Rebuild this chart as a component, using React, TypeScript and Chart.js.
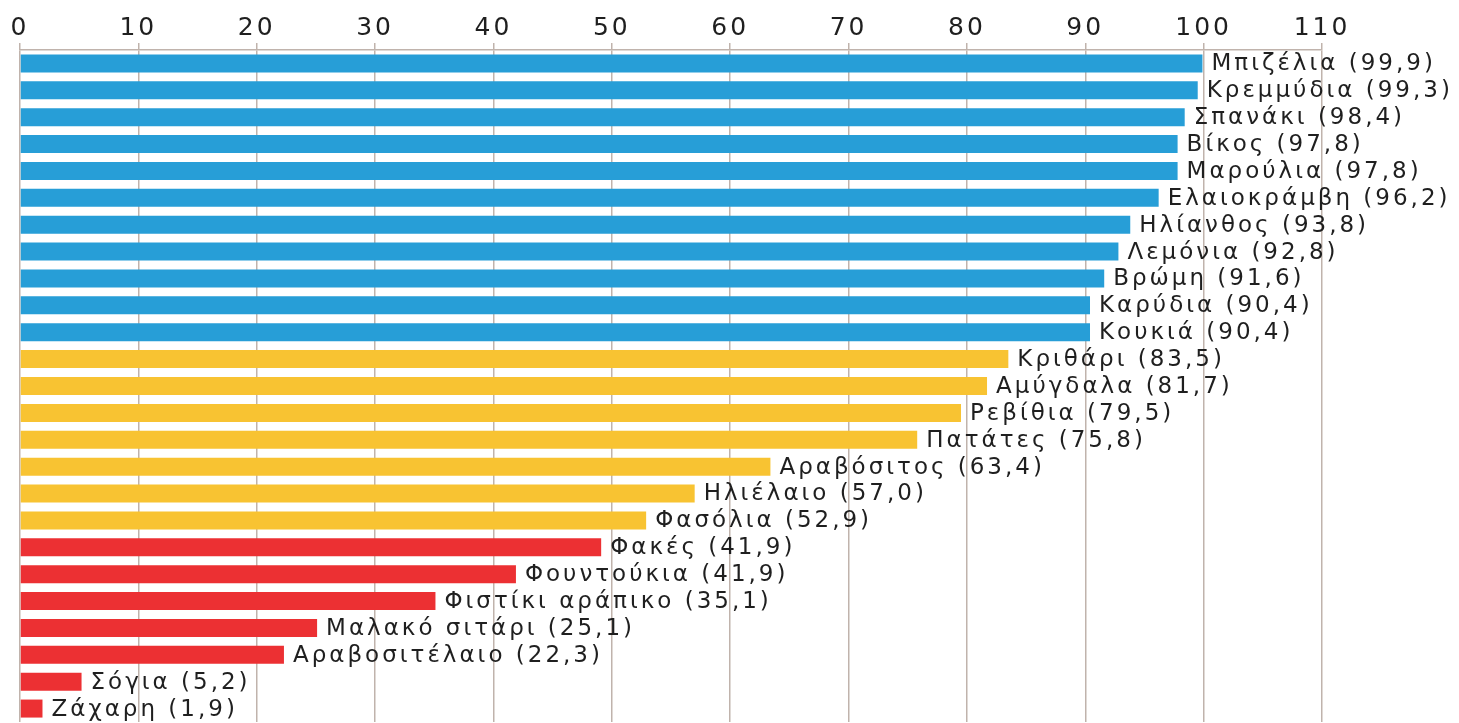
import React, { useEffect, useRef } from "react";
import { Chart, registerables } from "chart.js";

Chart.register(...registerables);

const categories = [
  "Μπιζέλια", "Κρεμμύδια", "Σπανάκι", "Βίκος", "Μαρούλια", "Ελαιοκράμβη",
  "Ηλίανθος", "Λεμόνια", "Βρώμη", "Καρύδια", "Κουκιά", "Κριθάρι",
  "Αμύγδαλα", "Ρεβίθια", "Πατάτες", "Αραβόσιτος", "Ηλιέλαιο", "Φασόλια",
  "Φακές", "Φουντούκια", "Φιστίκι αράπικο", "Μαλακό σιτάρι", "Αραβοσιτέλαιο",
  "Σόγια", "Ζάχαρη",
];

// bar lengths as drawn in the picture
const values = [
  99.9, 99.5, 98.4, 97.8, 97.8, 96.2, 93.8, 92.8, 91.6, 90.4, 90.4, 83.5,
  81.7, 79.5, 75.8, 63.4, 57.0, 52.9, 49.1, 41.9, 35.1, 25.1, 22.3, 5.2, 1.9,
];

// value text printed next to each bar
const valueLabels = [
  "99,9", "99,3", "98,4", "97,8", "97,8", "96,2", "93,8", "92,8", "91,6",
  "90,4", "90,4", "83,5", "81,7", "79,5", "75,8", "63,4", "57,0", "52,9",
  "41,9", "41,9", "35,1", "25,1", "22,3", "5,2", "1,9",
];

const tiers = [
  "high", "high", "high", "high", "high", "high", "high", "high", "high", "high", "high",
  "mid", "mid", "mid", "mid", "mid", "mid", "mid",
  "low", "low", "low", "low", "low", "low", "low",
];

const tierColors: Record<string, string> = {
  high: "#279ed7",
  mid: "#f8c332",
  low: "#ec3033",
};

const xTicks = { min: 0, max: 110, step: 10 };

const TEXT_COLOR = "#1f1f1f";
const GRID_COLOR = "#c0b3ac";
const FONT_FAMILY = '"DejaVu Sans", sans-serif';
const FONT_SIZE = 23;
const TICK_FONT_SIZE = 25;
const LETTER_SPACING = "3px";

const letterSpacingPlugin = {
  id: "letterSpacing",
  beforeDraw(chart: any) {
    (chart.ctx as any).letterSpacing = LETTER_SPACING;
  },
  afterDraw(chart: any) {
    (chart.ctx as any).letterSpacing = "0px";
  },
};

const barLabelPlugin = {
  id: "barLabels",
  afterDatasetsDraw(chart: any) {
    const ctx = chart.ctx;
    const meta = chart.getDatasetMeta(0);
    ctx.save();
    (ctx as any).letterSpacing = LETTER_SPACING;
    ctx.font = `${FONT_SIZE}px ${FONT_FAMILY}`;
    ctx.fillStyle = TEXT_COLOR;
    ctx.textBaseline = "middle";
    ctx.textAlign = "left";
    meta.data.forEach((el: any, i: number) => {
      ctx.fillText(`${categories[i]} (${valueLabels[i]})`, el.x + 9, el.y + 1);
    });
    ctx.restore();
  },
};

export default function App() {
  const canvasRef = useRef<HTMLCanvasElement | null>(null);

  useEffect(() => {
    document.body.style.margin = "0";
    const canvas = canvasRef.current;
    if (!canvas) return;
    const chart = new Chart(canvas, {
      type: "bar",
      data: {
        labels: categories,
        datasets: [
          {
            data: values,
            backgroundColor: tiers.map((t) => tierColors[t]),
            borderWidth: 0,
            barPercentage: 0.67,
            categoryPercentage: 1,
          },
        ],
      },
      options: {
        indexAxis: "y",
        animation: false,
        responsive: false,
        maintainAspectRatio: false,
        devicePixelRatio: 1,
        layout: { padding: { left: 20, right: 137, top: 0, bottom: 1 } },
        plugins: {
          legend: { display: false },
          tooltip: { enabled: false },
        },
        scales: {
          x: {
            position: "top",
            min: xTicks.min,
            max: xTicks.max,
            afterFit: (scale: any) => {
              scale.height = 50;
            },
            ticks: {
              stepSize: xTicks.step,
              color: TEXT_COLOR,
              font: { family: FONT_FAMILY, size: TICK_FONT_SIZE },
              padding: 0,
              maxRotation: 0,
              autoSkip: false,
            },
            grid: {
              color: GRID_COLOR,
              lineWidth: 1.5,
              tickLength: 7,
              drawTicks: true,
            },
            border: { display: true, color: GRID_COLOR, width: 1.5 },
          },
          y: {
            display: false,
          },
        },
      },
      plugins: [letterSpacingPlugin, barLabelPlugin],
    });
    return () => chart.destroy();
  }, []);

  return (
    <div style={{ position: "absolute", left: 0, top: 0, width: 1459, height: 723, background: "#fff" }}>
      <canvas ref={canvasRef} width={1459} height={723} style={{ width: 1459, height: 723, display: "block" }} />
    </div>
  );
}
